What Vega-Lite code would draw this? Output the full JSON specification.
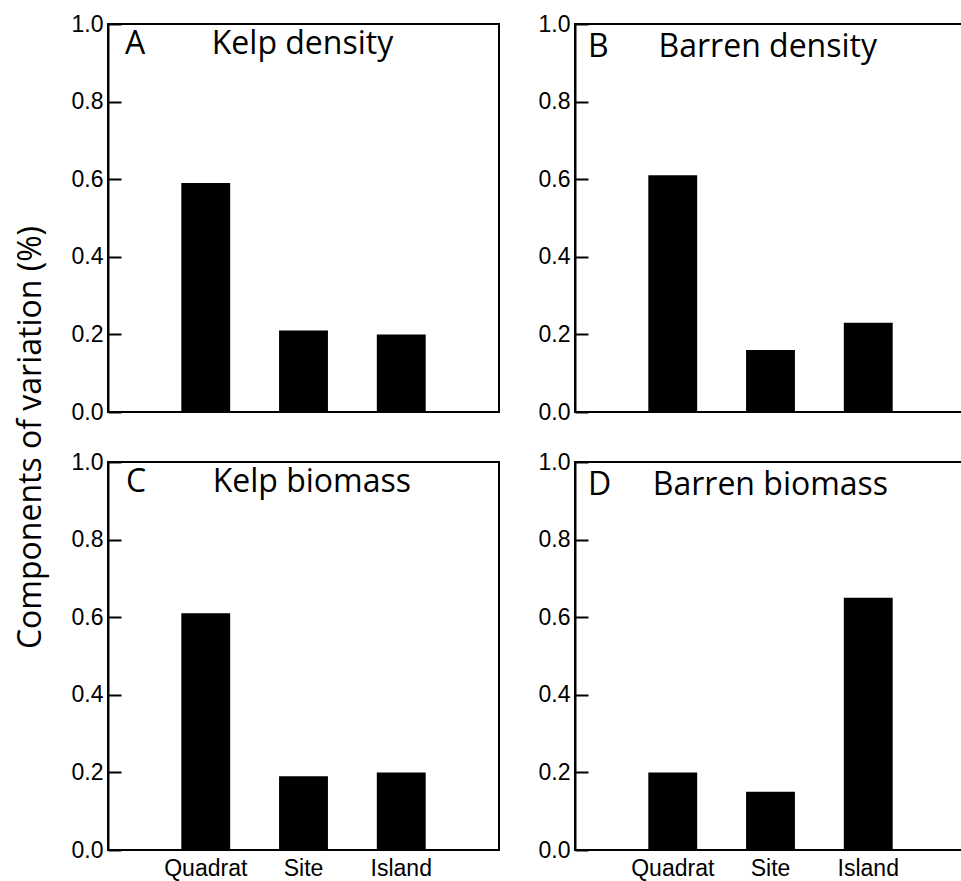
{
  "$schema": "https://vega.github.io/schema/vega-lite/v6.json",
  "background": "white",
  "padding": {"left": 13, "top": 12, "right": 0, "bottom": 0},
  "data": {"values": [
    {"panel": "A", "component": "Quadrat", "value": 0.59},
    {"panel": "A", "component": "Site", "value": 0.21},
    {"panel": "A", "component": "Island", "value": 0.20},
    {"panel": "B", "component": "Quadrat", "value": 0.61},
    {"panel": "B", "component": "Site", "value": 0.16},
    {"panel": "B", "component": "Island", "value": 0.23},
    {"panel": "C", "component": "Quadrat", "value": 0.61},
    {"panel": "C", "component": "Site", "value": 0.19},
    {"panel": "C", "component": "Island", "value": 0.20},
    {"panel": "D", "component": "Quadrat", "value": 0.20},
    {"panel": "D", "component": "Site", "value": 0.15},
    {"panel": "D", "component": "Island", "value": 0.65}
  ]},
  "config": {
    "view": {"stroke": "black", "strokeWidth": 2},
    "axisY": {
      "domainColor": "black",
      "domainWidth": 2,
      "tickColor": "black",
      "tickWidth": 2,
      "tickSize": -13,
      "labelPadding": 18,
      "labelColor": "black",
      "labelFont": "Liberation Sans",
      "labelFontSize": 23,
      "grid": false
    },
    "axisX": {
      "domain": false,
      "ticks": false,
      "labelAngle": 0,
      "labelPadding": 7,
      "labelColor": "black",
      "labelFont": "Liberation Sans",
      "labelFontSize": 23,
      "grid": false
    },
    "title": {
      "font": "Open Sans",
      "fontSize": 32,
      "fontWeight": "normal",
      "color": "black",
      "anchor": "start",
      "frame": "group",
      "baseline": "alphabetic",
      "offset": 0
    }
  },
  "bounds": "flush",
  "columns": 2,
  "spacing": {"row": 50, "column": 76},
  "concat": [
    {
      "width": 391, "height": 388,
      "title": {"text": "A\u00a0\u00a0\u00a0\u00a0\u00a0\u00a0\u00a0\u00a0Kelp density", "dx": 17, "dy": 52},
      "transform": [{"filter": "datum.panel === 'A'"}],
      "mark": {"type": "bar", "color": "black"},
      "encoding": {
        "x": {"field": "component", "type": "nominal", "sort": ["Quadrat", "Site", "Island"],
              "scale": {"paddingInner": 0.5, "paddingOuter": 0.75}, "axis": null},
        "y": {"field": "value", "type": "quantitative", "scale": {"domain": [0, 1]},
              "axis": {"values": [0, 0.2, 0.4, 0.6, 0.8, 1.0], "format": ".1f", "labelFontSize": 23,
                       "title": "Components of variation (%)", "titleX": -68, "titleY": 413, "titleAngle": -90,
                       "titleAlign": "center", "titleBaseline": "alphabetic", "titleFont": "Open Sans",
                       "titleFontSize": 32, "titleFontWeight": "normal", "titleColor": "black"}}
      }
    },
    {
      "width": 391, "height": 388,
      "title": {"text": "B\u00a0\u00a0\u00a0\u00a0\u00a0\u00a0Barren density", "dx": 13, "dy": 55},
      "transform": [{"filter": "datum.panel === 'B'"}],
      "mark": {"type": "bar", "color": "black"},
      "encoding": {
        "x": {"field": "component", "type": "nominal", "sort": ["Quadrat", "Site", "Island"],
              "scale": {"paddingInner": 0.5, "paddingOuter": 0.75}, "axis": null},
        "y": {"field": "value", "type": "quantitative", "scale": {"domain": [0, 1]},
              "axis": {"values": [0, 0.2, 0.4, 0.6, 0.8, 1.0], "format": ".1f", "labelFontSize": 23, "title": null}}
      }
    },
    {
      "width": 391, "height": 388,
      "title": {"text": "C\u00a0\u00a0\u00a0\u00a0\u00a0\u00a0\u00a0\u00a0Kelp biomass", "dx": 18, "dy": 52},
      "transform": [{"filter": "datum.panel === 'C'"}],
      "mark": {"type": "bar", "color": "black"},
      "encoding": {
        "x": {"field": "component", "type": "nominal", "sort": ["Quadrat", "Site", "Island"],
              "scale": {"paddingInner": 0.5, "paddingOuter": 0.75}, "axis": {"title": null, "labelFontSize": 23}},
        "y": {"field": "value", "type": "quantitative", "scale": {"domain": [0, 1]},
              "axis": {"values": [0, 0.2, 0.4, 0.6, 0.8, 1.0], "format": ".1f", "labelFontSize": 23, "title": null}}
      }
    },
    {
      "width": 391, "height": 388,
      "title": {"text": "D\u00a0\u00a0\u00a0\u00a0\u00a0Barren biomass", "dx": 13, "dy": 55},
      "transform": [{"filter": "datum.panel === 'D'"}],
      "mark": {"type": "bar", "color": "black"},
      "encoding": {
        "x": {"field": "component", "type": "nominal", "sort": ["Quadrat", "Site", "Island"],
              "scale": {"paddingInner": 0.5, "paddingOuter": 0.75}, "axis": {"title": null, "labelFontSize": 23}},
        "y": {"field": "value", "type": "quantitative", "scale": {"domain": [0, 1]},
              "axis": {"values": [0, 0.2, 0.4, 0.6, 0.8, 1.0], "format": ".1f", "labelFontSize": 23, "title": null}}
      }
    }
  ]
}
